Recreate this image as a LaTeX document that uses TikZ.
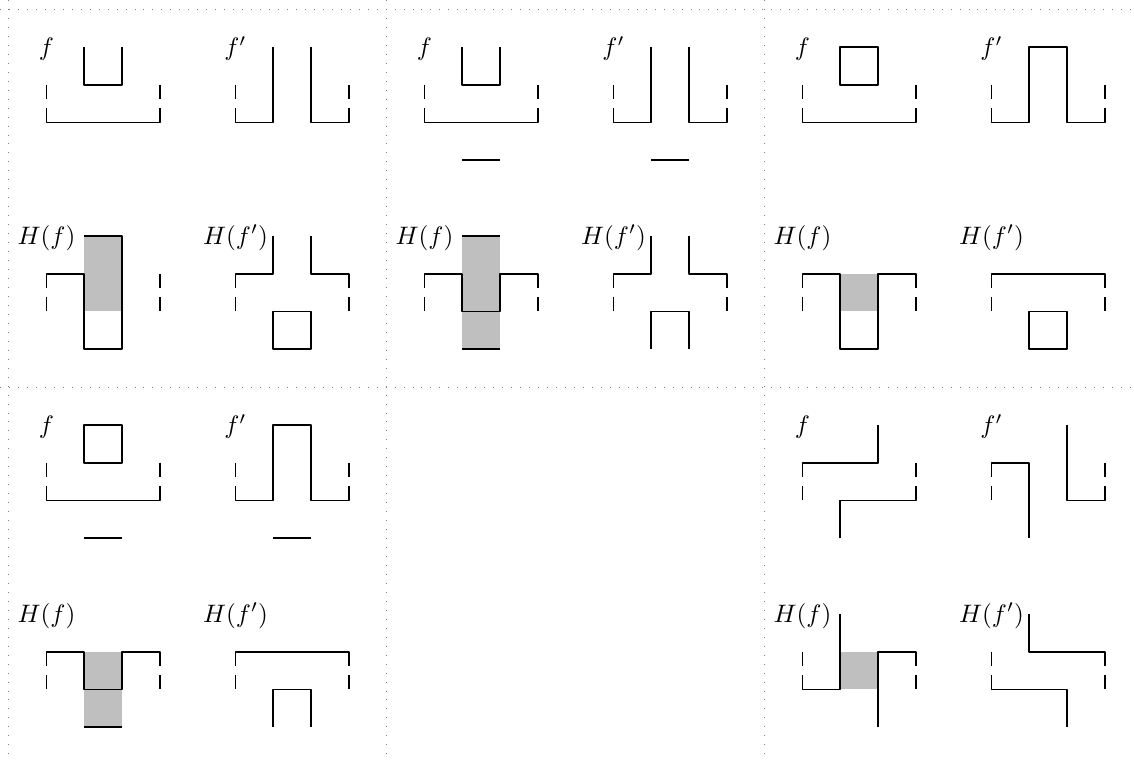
\documentclass[tikz,border=0pt]{standalone}
\begin{document}
\begin{tikzpicture}[
  ln/.style={line width=1.4pt, line join=round},
  sep/.style={gray, line width=0.6pt, dash pattern=on 0.6pt off 6.15pt},
  shade/.style={fill=lightgray, draw=none},
  lab/.style={scale=1.9, inner sep=0pt}
]
\useasboundingbox (0,0) rectangle (30,-20.11);
% separators
\foreach \x in {0.23,10.23,20.23} \draw[sep] (\x,0) -- (\x,-20.11);
\foreach \y in {-0.24,-10.24} \draw[sep] (0,\y) -- (30,\y);

% ---------- Panel A ----------
\begin{scope}[shift={(0.23,-0.24)}, yscale=-1]
  \node[lab] (A1) at (1,1.05) {$f$};
  \draw[ln] (2,1)--(2,2)--(3,2)--(3,1);
  \draw[ln] (1,2.62)--(1,3)--(4,3)--(4,2.62);
  \draw[ln] (1,2)--(1,2.38); \draw[ln] (4,2)--(4,2.38);
  \node[lab] (A2) at (6,1.05) {$f'$};
  \draw[ln] (6,2.62)--(6,3)--(7,3)--(7,1);
  \draw[ln] (8,1)--(8,3)--(9,3)--(9,2.62);
  \draw[ln] (6,2)--(6,2.38); \draw[ln] (9,2)--(9,2.38);
  \node[lab] (A3) at (1,6.05) {$H(f)$};
  \fill[shade] (2,6) rectangle (3,8);
  \draw[ln] (1,7.38)--(1,7)--(2,7)--(2,9)--(3,9)--(3,6)--(2,6);
  \draw[ln] (1,7.62)--(1,8);
  \draw[ln] (4,7)--(4,7.38); \draw[ln] (4,7.62)--(4,8);
  \node[lab] (A4) at (6,6.05) {$H(f')$};
  \draw[ln] (6,7.38)--(6,7)--(7,7)--(7,6);
  \draw[ln] (8,6)--(8,7)--(9,7)--(9,7.38);
  \draw[ln] (6,7.62)--(6,8); \draw[ln] (9,7.62)--(9,8);
  \draw[ln] (7,8) rectangle (8,9);
\end{scope}

% ---------- Panel B ----------
\begin{scope}[shift={(10.23,-0.24)}, yscale=-1]
  \node[lab] (B1) at (1,1.05) {$f$};
  \draw[ln] (2,1)--(2,2)--(3,2)--(3,1);
  \draw[ln] (1,2.62)--(1,3)--(4,3)--(4,2.62);
  \draw[ln] (1,2)--(1,2.38); \draw[ln] (4,2)--(4,2.38);
  \draw[ln] (2,4)--(3,4);
  \node[lab] (B2) at (6,1.05) {$f'$};
  \draw[ln] (6,2.62)--(6,3)--(7,3)--(7,1);
  \draw[ln] (8,1)--(8,3)--(9,3)--(9,2.62);
  \draw[ln] (6,2)--(6,2.38); \draw[ln] (9,2)--(9,2.38);
  \draw[ln] (7,4)--(8,4);
  \node[lab] (B3) at (1,6.05) {$H(f)$};
  \fill[shade] (2,6) rectangle (3,9);
  \draw[ln] (2,6)--(3,6);
  \draw[ln] (2,9)--(3,9);
  \draw[ln] (1,7.38)--(1,7)--(2,7)--(2,8)--(3,8)--(3,7)--(4,7)--(4,7.38);
  \draw[ln] (1,7.62)--(1,8); \draw[ln] (4,7.62)--(4,8);
  \node[lab] (B4) at (6,6.05) {$H(f')$};
  \draw[ln] (6,7.38)--(6,7)--(7,7)--(7,6);
  \draw[ln] (8,6)--(8,7)--(9,7)--(9,7.38);
  \draw[ln] (6,7.62)--(6,8); \draw[ln] (9,7.62)--(9,8);
  \draw[ln] (7,9)--(7,8)--(8,8)--(8,9);
\end{scope}

% ---------- Panel C ----------
\begin{scope}[shift={(20.23,-0.24)}, yscale=-1]
  \node[lab] (C1) at (1,1.05) {$f$};
  \draw[ln] (2,1) rectangle (3,2);
  \draw[ln] (1,2.62)--(1,3)--(4,3)--(4,2.62);
  \draw[ln] (1,2)--(1,2.38); \draw[ln] (4,2)--(4,2.38);
  \node[lab] (C2) at (6,1.05) {$f'$};
  \draw[ln] (6,2.62)--(6,3)--(7,3)--(7,1)--(8,1)--(8,3)--(9,3)--(9,2.62);
  \draw[ln] (6,2)--(6,2.38); \draw[ln] (9,2)--(9,2.38);
  \node[lab] (C3) at (1,6.05) {$H(f)$};
  \fill[shade] (2,7) rectangle (3,8);
  \draw[ln] (1,7.38)--(1,7)--(2,7)--(2,9)--(3,9)--(3,7)--(4,7)--(4,7.38);
  \draw[ln] (1,7.62)--(1,8); \draw[ln] (4,7.62)--(4,8);
  \node[lab] (C4) at (6,6.05) {$H(f')$};
  \draw[ln] (6,7.38)--(6,7)--(9,7)--(9,7.38);
  \draw[ln] (6,7.62)--(6,8); \draw[ln] (9,7.62)--(9,8);
  \draw[ln] (7,8) rectangle (8,9);
\end{scope}

% ---------- Panel D ----------
\begin{scope}[shift={(0.23,-10.24)}, yscale=-1]
  \node[lab] (D1) at (1,1.05) {$f$};
  \draw[ln] (2,1) rectangle (3,2);
  \draw[ln] (1,2.62)--(1,3)--(4,3)--(4,2.62);
  \draw[ln] (1,2)--(1,2.38); \draw[ln] (4,2)--(4,2.38);
  \draw[ln] (2,4)--(3,4);
  \node[lab] (D2) at (6,1.05) {$f'$};
  \draw[ln] (6,2.62)--(6,3)--(7,3)--(7,1)--(8,1)--(8,3)--(9,3)--(9,2.62);
  \draw[ln] (6,2)--(6,2.38); \draw[ln] (9,2)--(9,2.38);
  \draw[ln] (7,4)--(8,4);
  \node[lab] (D3) at (1,6.05) {$H(f)$};
  \fill[shade] (2,7) rectangle (3,9);
  \draw[ln] (1,7.38)--(1,7)--(2,7)--(2,8)--(3,8)--(3,7)--(4,7)--(4,7.38);
  \draw[ln] (2,9)--(3,9);
  \draw[ln] (1,7.62)--(1,8); \draw[ln] (4,7.62)--(4,8);
  \node[lab] (D4) at (6,6.05) {$H(f')$};
  \draw[ln] (6,7.38)--(6,7)--(9,7)--(9,7.38);
  \draw[ln] (6,7.62)--(6,8); \draw[ln] (9,7.62)--(9,8);
  \draw[ln] (7,9)--(7,8)--(8,8)--(8,9);
\end{scope}

% ---------- Panel F ----------
\begin{scope}[shift={(20.23,-10.24)}, yscale=-1]
  \node[lab] (F1) at (1,1.05) {$f$};
  \draw[ln] (1,2.38)--(1,2)--(3,2)--(3,1);
  \draw[ln] (1,2.62)--(1,3);
  \draw[ln] (2,4)--(2,3)--(4,3)--(4,2.62);
  \draw[ln] (4,2)--(4,2.38);
  \node[lab] (F2) at (6,1.05) {$f'$};
  \draw[ln] (6,2.38)--(6,2)--(7,2)--(7,4);
  \draw[ln] (6,2.62)--(6,3);
  \draw[ln] (8,1)--(8,3)--(9,3)--(9,2.62);
  \draw[ln] (9,2)--(9,2.38);
  \node[lab] (F3) at (1,6.05) {$H(f)$};
  \fill[shade] (2,7) rectangle (3,8);
  \draw[ln] (1,7)--(1,7.38);
  \draw[ln] (1,7.62)--(1,8)--(2,8)--(2,6);
  \draw[ln] (3,9)--(3,7)--(4,7)--(4,7.38);
  \draw[ln] (4,7.62)--(4,8);
  \node[lab] (F4) at (6,6.05) {$H(f')$};
  \draw[ln] (7,6)--(7,7)--(9,7)--(9,7.38);
  \draw[ln] (9,7.62)--(9,8);
  \draw[ln] (6,7)--(6,7.38);
  \draw[ln] (6,7.62)--(6,8)--(8,8)--(8,9);
\end{scope}
\end{tikzpicture}
\end{document}
